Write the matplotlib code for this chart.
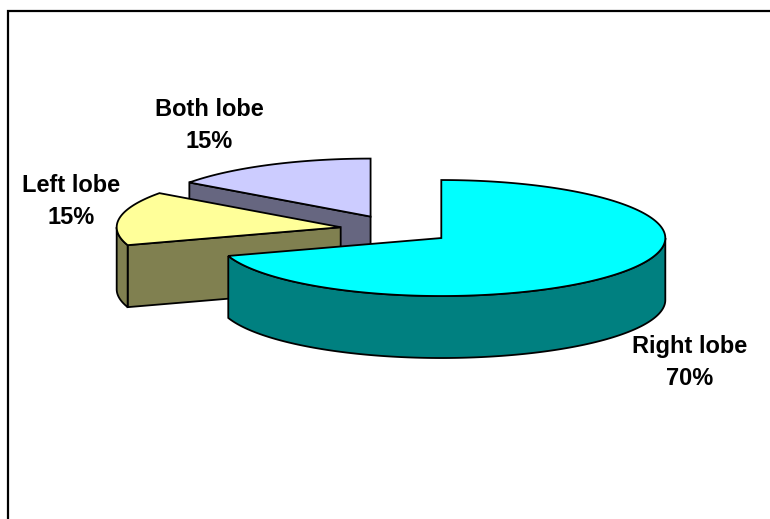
import matplotlib
matplotlib.use("Agg")
import matplotlib.pyplot as plt
from matplotlib.patches import Polygon
import numpy as np

labels = ["Right lobe", "Left lobe", "Both lobe"]
shares = [70, 15, 15]
top_colors = ["#00FFFF", "#FFFF99", "#CCCCFF"]
side_colors = ["#008080", "#808050", "#666680"]
label_pos = [(690, 362.5), (71, 201.5), (209, 125.5)]

W, H = 770, 519
CX, CY = 396, 229.5
RX, RY = 224, 58
DEPTH = 62
EXPLODE = 56


def rim(cx, cy, a0, a1):
    # angles clockwise from 12 o'clock, degrees
    a = np.radians(np.linspace(a0, a1, max(int(abs(a1 - a0)), 2)))
    return np.column_stack([cx + RX * np.sin(a), cy - RY * np.cos(a)])


def draw_slice(ax, start, end, top, side, z):
    mid = np.radians((start + end) / 2)
    cx = CX + EXPLODE * np.sin(mid)
    cy = CY - EXPLODE * np.cos(mid) * RY / RX
    down = np.array([0, DEPTH])
    apex = np.array([[cx, cy]])

    # the cut edge at the start angle faces the viewer when it points left
    if 180 < start < 360:
        pts = rim(cx, cy, start, start)[:1]
        face = np.vstack([apex, pts, pts + down, apex + down])
        ax.add_patch(Polygon(face, fc=side, ec="black", lw=1.3, zorder=z))

    # outer wall, only the front half of the ellipse
    a0, a1 = max(start, 90), min(end, 270)
    if a1 > a0:
        arc = rim(cx, cy, a0, a1)
        wall = np.vstack([arc, (arc + down)[::-1]])
        ax.add_patch(Polygon(wall, fc=side, ec="black", lw=1.3, zorder=z))

    arc = rim(cx, cy, start, end)
    ax.add_patch(Polygon(np.vstack([apex, arc]), fc=top, ec="black", lw=1.3, zorder=z + 0.5))


fig = plt.figure(figsize=(W / 100, H / 100), dpi=100)
ax = fig.add_axes([0, 0, 1, 1])
ax.set_xlim(0, W)
ax.set_ylim(H, 0)
ax.axis("off")

angles = np.cumsum([0] + shares) * 3.6
# back slices first so the big one sits on top
for i in [2, 1, 0]:
    draw_slice(ax, angles[i], angles[i + 1], top_colors[i], side_colors[i], 3 - i)

for name, val, (x, y) in zip(labels, shares, label_pos):
    ax.text(x, y, f"{name}\n{val}%", ha="center", va="center", fontsize=17,
            fontweight="bold", family="Liberation Sans", color="black",
            linespacing=1.55, zorder=10)

# chart frame, only top and left show in the crop
ax.plot([8, 8, W], [H - 1, 11, 11], color="black", lw=1.6, zorder=11,
        solid_joinstyle="miter")

fig.savefig("out.png", dpi=100)
